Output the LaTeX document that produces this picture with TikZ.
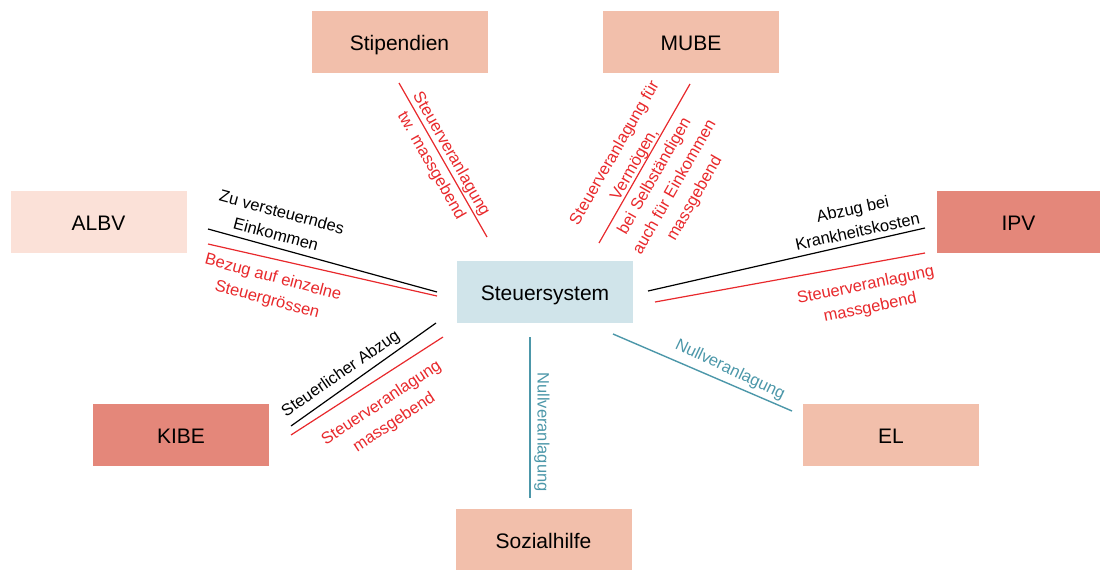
\documentclass[tikz,border=0pt]{standalone}
\usepackage{fontspec}
\setmainfont{Liberation Sans}
\definecolor{salmon}{HTML}{F2BFAB}
\definecolor{salmonlight}{HTML}{FBE1D8}
\definecolor{salmondark}{HTML}{E4877A}
\definecolor{bluebox}{HTML}{D0E4EA}
\definecolor{redl}{HTML}{E8292C}
\definecolor{teal}{HTML}{4C97A9}
\tikzset{
  box/.style={minimum width=176pt, minimum height=62pt, inner sep=0pt, text height=17pt, text depth=0pt, font=\fontsize{21}{25}\selectfont, text=black},
  lbl/.style={font=\fontsize{16.5}{23}\selectfont, align=center, inner sep=0pt},
  redlbl/.style={lbl, text=redl},
  blacklbl/.style={lbl, text=black},
  teallbl/.style={lbl, text=teal},
  redline/.style={draw=redl, line width=1.2pt},
  blackline/.style={draw=black, line width=1.2pt},
  tealline/.style={draw=teal, line width=1.4pt},
}
\begin{document}
\begin{tikzpicture}[x=1pt,y=-1pt]
\useasboundingbox (0,0) rectangle (1102,570);
% boxes
\node[box, fill=salmon] (stip) at (399.5,42) {Stipendien};
\node[box, fill=salmon] (mube) at (691,42) {MUBE};
\node[box, fill=salmonlight] (albv) at (98.5,222) {ALBV};
\node[box, fill=salmondark, minimum width=163pt] (ipv) at (1018.5,222) {IPV};
\node[box, fill=bluebox] (steu) at (545,291.5) {Steuersystem};
\node[box, fill=salmondark] (kibe) at (181,435) {KIBE};
\node[box, fill=salmon] (el) at (891,435) {EL};
\node[box, fill=salmon, minimum height=61pt] (sozi) at (543.5,539.5) {Sozialhilfe};
% line end points
\coordinate (s1) at (399,83);  \coordinate (s2) at (487,237);
\coordinate (m1) at (690,84);  \coordinate (m2) at (599,243);
\coordinate (a1) at (208,229); \coordinate (a2) at (437,292);
\coordinate (a3) at (208,244); \coordinate (a4) at (437,296);
\coordinate (i1) at (648,291); \coordinate (i2) at (925,228);
\coordinate (i3) at (655,302); \coordinate (i4) at (925,253);
\coordinate (k1) at (291,426); \coordinate (k2) at (436,323);
\coordinate (k3) at (291,435); \coordinate (k4) at (443,337);
\coordinate (z1) at (530,337); \coordinate (z2) at (530,498);
\coordinate (e1) at (613,334); \coordinate (e2) at (792,411);
% lines
\draw[redline] (s1) -- (s2);
\draw[redline] (m1) -- (m2);
\draw[blackline] (a1) -- (a2);
\draw[redline] (a3) -- (a4);
\draw[blackline] (i1) -- (i2);
\draw[redline] (i3) -- (i4);
\draw[blackline] (k1) -- (k2);
\draw[redline] (k3) -- (k4);
\draw[tealline] (z1) -- (z2);
\draw[tealline] (e1) -- (e2);
% labels
\node[redlbl, rotate=-60.3] (ls) at (441,160) {Steuerveranlagung\\tw. massgebend};
\node[redlbl, rotate=60.2] (lm) at (655,176) {Steuerveranlagung für\\Vermögen,\\bei Selbständigen\\auch für Einkommen\\massgebend};
\node[blacklbl, rotate=-15] (la1) at (279,223) {Zu versteuerndes\\Einkommen};
\node[redlbl, rotate=-15] (la2) at (270,289) {Bezug auf einzelne\\Steuergrössen};
\node[blacklbl, rotate=12.2] (li1) at (855,220) {Abzug bei\\Krankheitskosten};
\node[redlbl, rotate=11.5] (li2) at (868,297) {Steuerveranlagung\\massgebend};
\node[blacklbl, rotate=34.6] (lk1) at (341,374) {Steuerlicher Abzug};
\node[redlbl, rotate=33.5] (lk2) at (388,413) {Steuerveranlagung\\massgebend};
\node[teallbl, rotate=-90] (lz) at (542,432) {Nullveranlagung};
\node[teallbl, rotate=-25.5] (le) at (730,370) {Nullveranlagung};
\end{tikzpicture}
\end{document}
